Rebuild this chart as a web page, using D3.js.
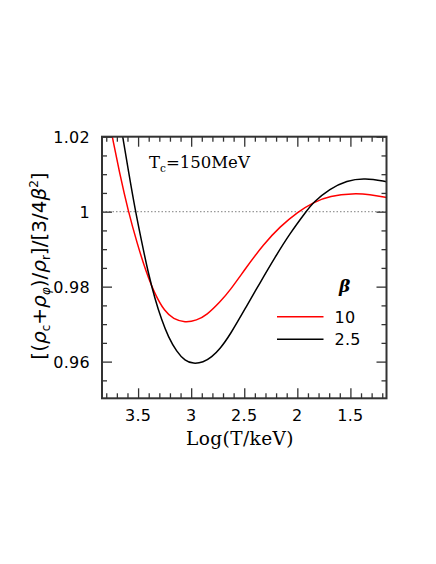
<!DOCTYPE html>
<html>
<head>
<meta charset="utf-8">
<script src="https://cdn.jsdelivr.net/npm/d3@7"></script>
<style>
  body { margin: 0; background: #fff; }
</style>
</head>
<body>
<div id="chart"></div>
<script>
// log T (keV) and ratio
const redX = [3.743, 3.670, 3.595, 3.510, 3.4255, 3.341, 3.247, 3.168, 3.058, 2.948, 2.854, 2.7285, 2.634, 2.484, 2.321, 2.164, 1.992, 1.850, 1.693, 1.474, 1.317, 1.159];
const redY = [1.0200, 1.0097, 1.0004, 0.9916, 0.9840, 0.9779, 0.9733, 0.9714, 0.9704, 0.9710, 0.9724, 0.9759, 0.9790, 0.9850, 0.9912, 0.9960, 1.0000, 1.0025, 1.0042, 1.0049, 1.0046, 1.0038];
const blackX = [3.645, 3.586, 3.529, 3.466, 3.404, 3.341, 3.278, 3.2155, 3.136, 3.058, 2.980, 2.886, 2.807, 2.7285, 2.634, 2.478, 2.352, 2.211, 2.070, 1.913, 1.850, 1.693, 1.536, 1.364, 1.159];
const blackY = [1.0200, 1.0100, 1.0007, 0.9919, 0.9836, 0.9767, 0.9711, 0.9666, 0.9626, 0.9602, 0.9594, 0.9598, 0.9612, 0.9634, 0.9671, 0.9748, 0.9810, 0.9878, 0.9942, 1.0002, 1.0025, 1.0061, 1.0083, 1.0090, 1.0080];
const xTicks = [3.5, 3, 2.5, 2, 1.5];
const yTicks = [1.02, 1, 0.98, 0.96];
const legendLabels = ["10", "2.5"];
const legendColors = ["#ff0000", "#000000"];

const W = 436, H = 564;
const m = { left: 102, right: 386.5, top: 136.7, bottom: 398.3 };

const x = d3.scaleLinear().domain([3.84, 1.16]).range([m.left, m.right]);
const y = d3.scaleLinear().domain([0.95, 1.02]).range([m.bottom + 0.8, m.top]);

const svg = d3.select("#chart").append("svg")
    .attr("width", W).attr("height", H);

svg.append("clipPath").attr("id", "clip")
  .append("rect")
    .attr("x", m.left).attr("y", m.top)
    .attr("width", m.right - m.left).attr("height", m.bottom - m.top);

// dotted reference line at 1
svg.append("line")
    .attr("x1", m.left).attr("x2", m.right)
    .attr("y1", y(1)).attr("y2", y(1))
    .attr("stroke", "#999").attr("stroke-width", 1.2)
    .attr("stroke-dasharray", "1.5,2");

// curves
const lineGen = d3.line()
    .x(d => x(d[0])).y(d => y(d[1]))
    .curve(d3.curveBasis);

const series = [
  { xs: redX, ys: redY, color: legendColors[0] },
  { xs: blackX, ys: blackY, color: legendColors[1] }
];
series.forEach(s => {
  svg.append("path")
      .datum(s.xs.map((v, i) => [v, s.ys[i]]))
      .attr("clip-path", "url(#clip)")
      .attr("fill", "none")
      .attr("stroke", s.color)
      .attr("stroke-width", 1.5)
      .attr("d", lineGen);
});

// ticks pointing inward on all four sides, via d3 axes
const frameColor = "#333";
const xMinor = d3.range(12, 39).map(i => i / 10).filter(v => Math.round(v * 10) % 5 !== 0);
const yMinor = d3.range(191, 205).map(i => i / 200).filter(v => Math.round(v * 200) % 4 !== 0);

function addAxis(axis, tx, ty) {
  const ga = svg.append("g")
      .attr("transform", `translate(${tx},${ty})`)
      .call(axis);
  ga.select(".domain").remove();
  ga.selectAll("line").attr("stroke", frameColor).attr("stroke-width", 1.3);
  ga.selectAll("text").remove();
}
[[xMinor, 5], [xTicks, 10]].forEach(([vals, len]) => {
  addAxis(d3.axisBottom(x).tickValues(vals).tickSize(-len).tickFormat(""), 0, m.bottom);
  addAxis(d3.axisTop(x).tickValues(vals).tickSize(-len).tickFormat(""), 0, m.top);
});
[[yMinor, 5], [yTicks, 10]].forEach(([vals, len]) => {
  addAxis(d3.axisLeft(y).tickValues(vals).tickSize(-len).tickFormat(""), m.left, 0);
  addAxis(d3.axisRight(y).tickValues(vals).tickSize(-len).tickFormat(""), m.right, 0);
});

svg.append("rect")
    .attr("x", m.left).attr("y", m.top)
    .attr("width", m.right - m.left).attr("height", m.bottom - m.top)
    .attr("fill", "none").attr("stroke", frameColor).attr("stroke-width", 2);

// tick labels
const tickFont = "'DejaVu Sans', sans-serif";
svg.selectAll(".xt").data(xTicks).enter().append("text")
    .attr("x", d => x(d)).attr("y", 420.5)
    .attr("text-anchor", "middle")
    .attr("font-family", tickFont).attr("font-size", 16)
    .attr("letter-spacing", 0.3)
    .attr("fill", "#000")
    .text(d => d);

svg.selectAll(".yt").data(yTicks).enter().append("text")
    .attr("x", 90).attr("y", d => y(d) + 6)
    .attr("text-anchor", "end")
    .attr("font-family", tickFont).attr("font-size", 16)
    .attr("letter-spacing", 0.3)
    .attr("fill", "#000")
    .text(d => d);

// axis titles
const serif = "'DejaVu Serif', serif";
svg.append("text")
    .attr("x", 240).attr("y", 445)
    .attr("text-anchor", "middle")
    .attr("font-family", serif).attr("font-size", 18.5)
    .attr("letter-spacing", 0.4)
    .text("Log(T/keV)");

const yl = svg.append("text")
    .attr("transform", "translate(46,266) rotate(-90)")
    .attr("text-anchor", "middle")
    .attr("font-family", tickFont).attr("font-size", 20);
yl.append("tspan").text("[(");
yl.append("tspan").attr("font-style", "italic").text("ρ");
yl.append("tspan").attr("font-size", 12).attr("dy", 4).text("c");
yl.append("tspan").attr("dy", -4).text("+");
yl.append("tspan").attr("font-style", "italic").text("ρ");
yl.append("tspan").attr("font-size", 12).attr("font-style", "italic").attr("dy", 4).text("φ");
yl.append("tspan").attr("dy", -4).text(")/");
yl.append("tspan").attr("font-style", "italic").text("ρ");
yl.append("tspan").attr("font-size", 12).attr("dy", 4).text("r");
yl.append("tspan").attr("dy", -4).text("]/[3/4");
yl.append("tspan").attr("font-style", "italic").text("β");
yl.append("tspan").attr("font-size", 12).attr("dy", -8).text("2");
yl.append("tspan").attr("dy", 8).text("]");

// annotation
const tc = svg.append("text")
    .attr("x", 149).attr("y", 168)
    .attr("font-family", serif).attr("font-size", 16.5);
tc.append("tspan").text("T");
tc.append("tspan").attr("font-size", 10.5).attr("dy", 4).text("c");
tc.append("tspan").attr("dy", -4).text("=150MeV");

// legend
svg.append("text")
    .attr("x", 339).attr("y", 292)
    .attr("font-family", serif).attr("font-size", 17)
    .attr("font-style", "italic").attr("font-weight", "bold")
    .text("β");

legendLabels.forEach((lab, i) => {
  const ly = 316.7 + i * 22.5;
  svg.append("line")
      .attr("x1", 277).attr("x2", 323.5)
      .attr("y1", ly).attr("y2", ly)
      .attr("stroke", legendColors[i]).attr("stroke-width", 1.5);
  svg.append("text")
      .attr("x", 334.5).attr("y", ly + 6)
      .attr("font-family", tickFont).attr("font-size", 16)
      .attr("letter-spacing", 0.3)
      .text(lab);
});
</script>
</body>
</html>
